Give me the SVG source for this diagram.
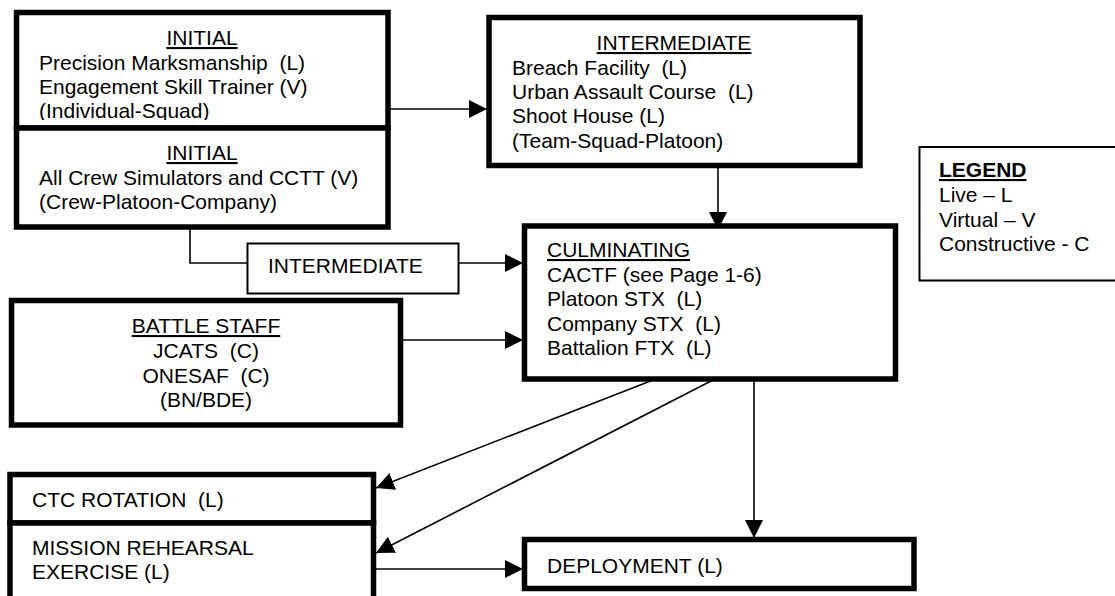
<svg xmlns="http://www.w3.org/2000/svg" width="1115" height="596" viewBox="0 0 1115 596" xml:space="preserve">
<style>
.box{fill:#fff;stroke:#000;stroke-width:5.5}
.thin{fill:#fff;stroke:#000;stroke-width:2}
.t{font-family:"Liberation Sans",Arial,sans-serif;font-size:21px;fill:#000;white-space:pre}
.c{text-anchor:middle}
.u{text-decoration:underline}
.con{fill:none;stroke:#000;stroke-width:1.6}
</style>
<defs>
<marker id="ah" markerUnits="userSpaceOnUse" markerWidth="20" markerHeight="20" refX="18" refY="9" orient="auto">
<path d="M0,0 L18,9 L0,18 Z" fill="#000"/>
</marker>
<clipPath id="clip1"><rect x="0" y="0" width="400" height="120"/></clipPath>
</defs>
<rect width="1115" height="596" fill="#fff"/>
<g id="connectors">
<path class="con" d="M382,109 L487,109" marker-end="url(#ah)"/>
<path class="con" d="M718,168 L718,230" marker-end="url(#ah)"/>
<path class="con" d="M190,223 L190,263 L247,263"/>
<path class="con" d="M459,263 L523,263" marker-end="url(#ah)"/>
<path class="con" d="M403,340 L523,340" marker-end="url(#ah)"/>
<path class="con" d="M653,380 L376,488" marker-end="url(#ah)"/>
<path class="con" d="M713,380 L376,553" marker-end="url(#ah)"/>
<path class="con" d="M754,380 L754,538" marker-end="url(#ah)"/>
<path class="con" d="M376,569 L523,569" marker-end="url(#ah)"/>
</g>
<g id="initial1">
<rect class="box" x="16.5" y="12.5" width="371.5" height="115.5"/>
<g clip-path="url(#clip1)">
<text class="t c u" x="202" y="45">INITIAL</text>
<text class="t" x="39" y="70">Precision Marksmanship  (L)</text>
<text class="t" x="39" y="94">Engagement Skill Trainer (V)</text>
<text class="t" x="39" y="118">(Individual-Squad)</text>
</g>
</g>
<g id="initial2">
<rect class="box" x="16.5" y="128" width="371.5" height="99"/>
<text class="t c u" x="202" y="160">INITIAL</text>
<text class="t" x="39" y="185">All Crew Simulators and CCTT (V)</text>
<text class="t" x="39" y="209">(Crew-Platoon-Company)</text>
</g>
<g id="intermediate">
<rect class="box" x="489" y="17.5" width="371" height="148"/>
<text class="t c u" x="674" y="50">INTERMEDIATE</text>
<text class="t" x="512" y="75">Breach Facility  (L)</text>
<text class="t" x="512" y="99">Urban Assault Course  (L)</text>
<text class="t" x="512" y="123">Shoot House (L)</text>
<text class="t" x="512" y="148">(Team-Squad-Platoon)</text>
</g>
<g id="intermediate2">
<rect class="thin" x="247.5" y="243.5" width="211" height="50"/>
<text class="t" x="268" y="273">INTERMEDIATE</text>
</g>
<g id="culminating">
<rect class="box" x="524.5" y="226" width="371" height="153"/>
<text class="t u" x="547" y="257">CULMINATING</text>
<text class="t" x="547" y="282">CACTF (see Page 1-6)</text>
<text class="t" x="547" y="306">Platoon STX  (L)</text>
<text class="t" x="547" y="331">Company STX  (L)</text>
<text class="t" x="547" y="355">Battalion FTX  (L)</text>
</g>
<g id="battlestaff">
<rect class="box" x="11.5" y="300.5" width="389" height="124.5"/>
<text class="t c u" x="206" y="333">BATTLE STAFF</text>
<text class="t c" x="206" y="358">JCATS  (C)</text>
<text class="t c" x="206" y="383">ONESAF  (C)</text>
<text class="t c" x="206" y="407">(BN/BDE)</text>
</g>
<g id="ctc">
<rect class="box" x="10" y="474.5" width="363.5" height="48.5"/>
<text class="t" x="32" y="507">CTC ROTATION  (L)</text>
</g>
<g id="mission">
<rect class="box" x="10" y="523" width="363.5" height="80"/>
<text class="t" x="32" y="555">MISSION REHEARSAL</text>
<text class="t" x="32" y="579">EXERCISE (L)</text>
</g>
<g id="deployment">
<rect class="box" x="524.5" y="539.5" width="389.5" height="49"/>
<text class="t" x="547" y="573">DEPLOYMENT (L)</text>
</g>
<g id="legend">
<rect class="thin" x="919.5" y="147" width="200" height="133.5"/>
<text class="t u" x="939" y="177" font-weight="bold">LEGEND</text>
<text class="t" x="939" y="202">Live – L</text>
<text class="t" x="939" y="227">Virtual – V</text>
<text class="t" x="939" y="251">Constructive - C</text>
</g>
</svg>
